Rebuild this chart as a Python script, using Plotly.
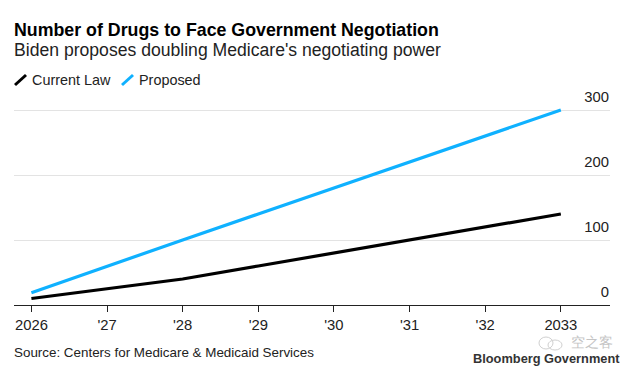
import plotly.graph_objects as go

years = [2026, 2027, 2028, 2029, 2030, 2031, 2032, 2033]
year_labels = ["2026", "'27", "'28", "'29", "'30", "'31", "'32", "2033"]
current_law = [10, 25, 40, 60, 80, 101, 120, 140]
proposed = [19, 60, 100, 140, 180, 220, 260, 300]
y_ticks = [0, 100, 200, 300]

W, H = 633, 371
L, R, T, B = 14, 610, 84, 305
FONT = "Liberation Sans"

def px(x): return (x - L) / (R - L)
def py(y): return (B - y) / (B - T)

fig = go.Figure()
fig.add_trace(go.Scatter(x=years, y=current_law, mode="lines", name="Current Law",
                         line=dict(color="#000000", width=3.2), cliponaxis=False))
fig.add_trace(go.Scatter(x=years, y=proposed, mode="lines", name="Proposed",
                         line=dict(color="#0FB1FF", width=3.2), cliponaxis=False))

fig.update_layout(
    width=W, height=H, autosize=False, showlegend=False,
    paper_bgcolor="white", plot_bgcolor="white",
    margin=dict(l=L, r=W - R, t=T, b=H - B, pad=0),
    font=dict(family=FONT, color="#222222"),
    xaxis=dict(range=[2025.77, 2033.65], tickmode="array", tickvals=years, ticktext=year_labels,
               ticks="outside", ticklen=6, tickwidth=1, tickcolor="#222222",
               showgrid=False, showline=True, linecolor="#222222", linewidth=1.2,
               tickfont=dict(size=14.8, color="#222222"), zeroline=False),
    yaxis=dict(range=[0, 340], side="right", tickmode="array", tickvals=y_ticks,
               ticklabelposition="inside top", ticklabelshift=-3, ticklabelstandoff=-2,
               showgrid=True, gridcolor="#E3E3E3", gridwidth=1.2,
               zeroline=False, showline=False, ticks="",
               tickfont=dict(size=14.8, color="#222222")),
)

def text(x, y, s, size, color="#222222", bold=False, anchor="left"):
    fig.add_annotation(xref="paper", yref="paper", x=px(x), y=py(y), text=f"<b>{s}</b>" if bold else s,
                       showarrow=False, xanchor=anchor, yanchor="middle",
                       font=dict(size=size, color=color, family=FONT), borderpad=0, borderwidth=0)

text(14, 30, "Number of Drugs to Face Government Negotiation", 17.8, color="#000000", bold=True)
text(14, 50, "Biden proposes doubling Medicare's negotiating power", 17.6)
text(32, 80, "Current Law", 14.4)
text(139, 80, "Proposed", 14.4)
text(14, 352, "Source: Centers for Medicare &amp; Medicaid Services", 13.4)
text(620, 358, "Bloomberg Government", 12.8, color="#333333", bold=True, anchor="right")
text(613, 342, "空之客", 14, color="#C4C4C4", anchor="right")

for x0, y0, x1, y1, c in [(15, 85, 26, 75, "#000000"), (122, 85, 133, 75, "#0FB1FF")]:
    fig.add_shape(type="line", xref="paper", yref="paper", x0=px(x0), y0=py(y0), x1=px(x1), y1=py(y1),
                  line=dict(color=c, width=3))
for x0, y0, x1, y1 in [(539, 337, 553, 349), (548, 340, 562, 350)]:
    fig.add_shape(type="circle", xref="paper", yref="paper", x0=px(x0), y0=py(y0), x1=px(x1), y1=py(y1),
                  line=dict(color="#D0D0D0", width=1))

fig.write_html("out.html", config={"displayModeBar": False}, post_script="document.body.style.margin='0';")
